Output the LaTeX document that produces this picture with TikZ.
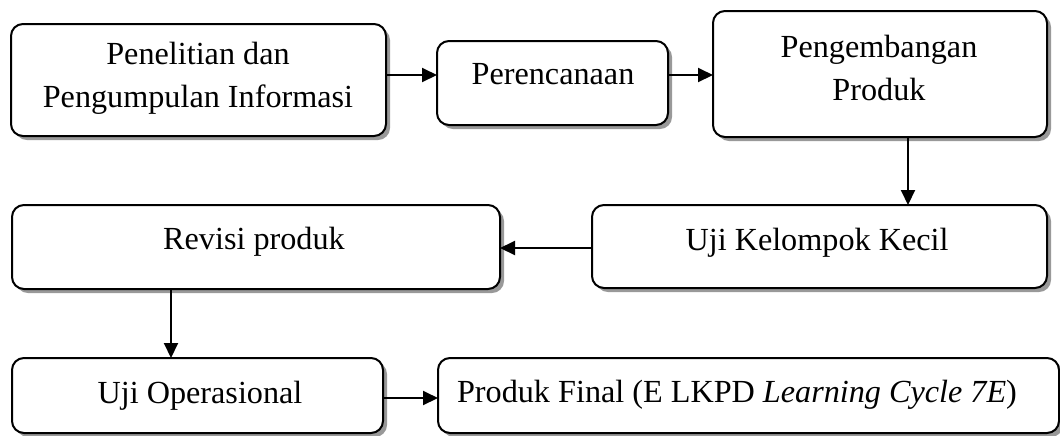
\documentclass[tikz,border=0pt]{standalone}
\usepackage{fontspec}
\setmainfont{Liberation Serif}
\usetikzlibrary{arrows.meta,shadows}
\begin{document}
\begin{tikzpicture}[x=0.5pt,y=-0.5pt,
  stepbox/.style={draw=black, line width=1pt, rounded corners=6pt, fill=white,
    drop shadow={shadow xshift=2pt, shadow yshift=-2pt, fill=black!40, opacity=1},
    inner sep=0pt, outer sep=0pt},
  lbl/.style={font=\fontsize{16.1}{21.5}\selectfont, inner sep=0pt, align=center},
  arr/.style={line width=1pt, -{Triangle[length=7.5pt,width=7pt]}}]
\useasboundingbox (0,0) rectangle (1060,435);
% boxes
\node[stepbox, minimum width=187.5pt, minimum height=56pt] (b1) at (198.5,80) {};
\node[stepbox, minimum width=115.5pt, minimum height=42pt] (b2) at (552.5,83) {};
\node[stepbox, minimum width=167pt, minimum height=63pt] (b3) at (880,74) {};
\node[stepbox, minimum width=227.5pt, minimum height=41.5pt] (b4) at (819.5,246.5) {};
\node[stepbox, minimum width=244pt, minimum height=42pt] (b5) at (256,247) {};
\node[stepbox, minimum width=185.5pt, minimum height=37.5pt] (b6) at (197.5,395.5) {};
\node[stepbox, minimum width=310.5pt, minimum height=37.5pt] (b7) at (748.5,395.5) {};
% labels
\node[lbl] (t1) at (198,78) {Penelitian dan\\Pengumpulan Informasi};
\node[lbl, anchor=base] (t2) at (553,84) {Perencanaan};
\node[lbl] (t3) at (879,68) {Pengembangan\\Produk};
\node[lbl, anchor=base] (t4) at (817,250) {Uji Kelompok Kecil};
\node[lbl, anchor=base] (t5) at (254,249) {Revisi produk};
\node[lbl, anchor=base] (t6) at (200,403) {Uji Operasional};
\node[lbl, anchor=base] (t7) at (737,402) {Produk Final (E LKPD \textit{Learning Cycle 7E})};
% connectors
\draw[arr] (b1.east |- 0,75) -- (b2.west |- 0,75);
\draw[arr] (b2.east |- 0,75) -- (b3.west |- 0,75);
\draw[arr] (b3.south -| 908,0) -- (b4.north -| 908,0);
\draw[arr] (b4.west |- 0,248) -- (b5.east |- 0,248);
\draw[arr] (b5.south -| 171,0) -- (b6.north -| 171,0);
\draw[arr] (b6.east |- 0,398) -- (b7.west |- 0,398);
\end{tikzpicture}
\end{document}
